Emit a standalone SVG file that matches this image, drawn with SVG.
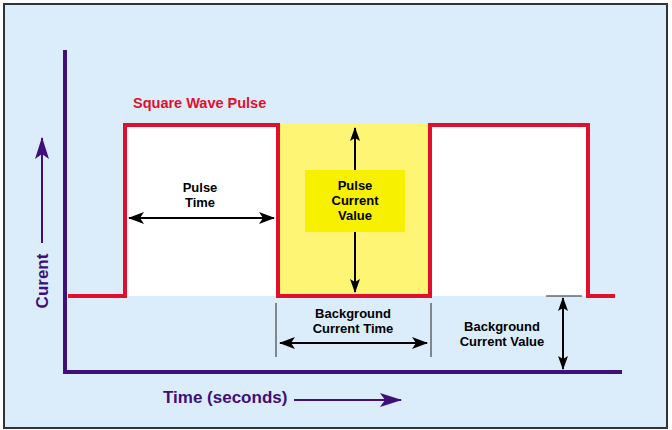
<svg xmlns="http://www.w3.org/2000/svg" width="672" height="430" viewBox="0 0 672 430">
<defs>
<style>
.lbl{font-family:"Liberation Sans",Arial,sans-serif;font-weight:bold;font-size:13px;fill:#000;text-anchor:middle}
.pur{font-family:"Liberation Sans",Arial,sans-serif;font-weight:bold;fill:#3f0f7a}
.blk{stroke:#000;stroke-width:2;fill:none}
.wave{stroke:#e0102c;stroke-width:4;fill:none;stroke-linejoin:miter}
.axis{stroke:#3f0f7a;stroke-width:4;fill:none}
.tick{stroke:#222;stroke-width:1}
</style>
<marker id="ah" viewBox="0 0 16 12" refX="15" refY="6" markerWidth="16" markerHeight="12" markerUnits="userSpaceOnUse" orient="auto-start-reverse">
<path d="M0,0 L16,6 L0,12 L4,6 Z" fill="#000"/>
</marker>
<marker id="ahs" viewBox="0 0 14 10" refX="13" refY="5" markerWidth="14" markerHeight="10" markerUnits="userSpaceOnUse" orient="auto-start-reverse">
<path d="M0,0 L14,5 L0,10 L3,5 Z" fill="#000"/>
</marker>
<marker id="ahp" viewBox="0 0 22 14" refX="21" refY="7" markerWidth="22" markerHeight="14" markerUnits="userSpaceOnUse" orient="auto">
<path d="M0,0 L22,7 L0,14 L5,7 Z" fill="#3f0f7a"/>
</marker>
</defs>
<rect x="0" y="0" width="672" height="430" fill="#ffffff"/>
<rect x="4" y="4" width="663" height="424" fill="#dbedfb" stroke="#333" stroke-width="2"/>

<g id="pulse-areas">
<rect x="125" y="125" width="153" height="171" fill="#ffffff"/>
<rect x="430" y="125" width="158" height="171" fill="#ffffff"/>
<rect x="278" y="123" width="152" height="173" fill="#fff574"/>
</g>

<g id="axes">
<line class="axis" x1="65" y1="50" x2="65" y2="374"/>
<line class="axis" x1="63" y1="372" x2="622" y2="372"/>
</g>

<g id="waveform">
<polyline class="wave" points="68,296 125,296 125,125 278,125 278,296 430,296 430,125 588,125 588,296 615,296"/>
</g>

<g id="title">
<text x="133" y="108" font-family="Liberation Sans,Arial,sans-serif" font-weight="bold" font-size="14.5" fill="#e0102c">Square Wave Pulse</text>
</g>

<g id="pulse-current-box">
<rect x="305" y="170" width="100" height="62" fill="#f7f000"/>
<text class="lbl" x="355" y="190">Pulse</text>
<text class="lbl" x="355" y="205">Current</text>
<text class="lbl" x="355" y="220">Value</text>
</g>

<g id="pulse-time">
<text class="lbl" x="200" y="192">Pulse</text>
<text class="lbl" x="200" y="207">Time</text>
</g>

<g id="bg-time">
<text class="lbl" x="353" y="318">Background</text>
<text class="lbl" x="353" y="333">Current Time</text>
</g>

<g id="bg-value">
<text class="lbl" x="502" y="331">Background</text>
<text class="lbl" x="502" y="346">Current Value</text>
</g>

<g id="axis-labels">
<text class="pur" font-size="17" transform="translate(48,281) rotate(-90)" text-anchor="middle">Curent</text>
<text class="pur" font-size="17" x="163" y="403">Time (seconds)</text>
</g>

<g id="connectors">
<line class="blk" x1="129" y1="218" x2="274" y2="218" marker-start="url(#ah)" marker-end="url(#ah)"/>
<line class="blk" x1="355" y1="170" x2="355" y2="128" marker-end="url(#ahs)"/>
<line class="blk" x1="355" y1="232" x2="355" y2="292" marker-end="url(#ahs)"/>
<line class="tick" x1="276" y1="303" x2="276" y2="357"/>
<line class="tick" x1="431" y1="303" x2="431" y2="357"/>
<line class="blk" x1="280" y1="343" x2="427" y2="343" marker-start="url(#ah)" marker-end="url(#ah)"/>
<line class="tick" x1="546" y1="296" x2="582" y2="296" stroke-width="1.5"/>
<line class="blk" x1="563" y1="298" x2="563" y2="369" marker-start="url(#ahs)" marker-end="url(#ahs)"/>
<line x1="42" y1="243" x2="42" y2="138" stroke="#3f0f7a" stroke-width="2" marker-end="url(#ahp)"/>
<line x1="294" y1="400" x2="401" y2="400" stroke="#3f0f7a" stroke-width="2" marker-end="url(#ahp)"/>
</g>
</svg>
